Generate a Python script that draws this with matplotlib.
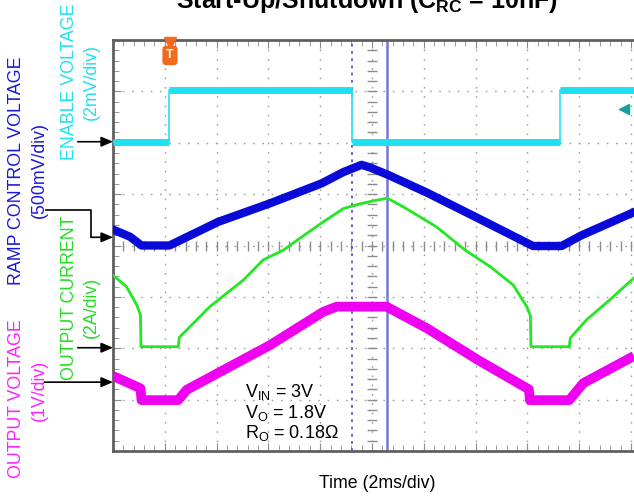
import numpy as np
import matplotlib
matplotlib.use('Agg')
import matplotlib.pyplot as plt

plt.rcParams['font.family'] = ['Liberation Sans', 'DejaVu Sans']
plt.rcParams['mathtext.fontset'] = 'custom'
plt.rcParams['mathtext.rm'] = 'Liberation Sans'
plt.rcParams['mathtext.bf'] = 'Liberation Sans:bold'

# scope traces in divisions (x: 0..10, y: 0..8)
enable_x = [0, 1.09, 1.09, 4.61, 4.61, 8.64, 8.64, 10.06]
enable_y = [6.02, 6.02, 7.02, 7.02, 6.02, 6.02, 7.02, 7.02]

ramp_x = [0, 0.33, 0.55, 1.09, 2.03, 3.03, 4.03, 4.45, 4.8, 4.96, 5.3, 6.06, 7.05, 8.11, 8.66, 9.05, 10.06]
ramp_y = [4.31, 4.17, 4.0, 4.0, 4.46, 4.82, 5.21, 5.43, 5.57, 5.52, 5.38, 5.03, 4.53, 3.99, 3.99, 4.2, 4.65]

current_x = [0, 0.26, 0.46, 0.53, 0.54, 1.26, 1.28, 1.87, 2.52, 2.9, 3.29, 3.55, 4.06, 4.45, 4.77, 5.03, 5.3,
             5.61, 6.25, 6.8, 7.28, 7.73, 7.99, 8.06, 8.07, 8.81, 8.83, 9.14, 9.59, 10.06]
current_y = [3.42, 3.2, 2.84, 2.65, 2.03, 2.03, 2.21, 2.81, 3.33, 3.72, 3.91, 4.1, 4.46, 4.72, 4.81, 4.87, 4.92,
             4.75, 4.36, 3.91, 3.59, 3.23, 2.81, 2.63, 2.03, 2.03, 2.2, 2.55, 2.94, 3.37]

vout_x = [0, 0.53, 0.55, 1.26, 1.42, 3.03, 4.06, 4.32, 5.28, 6.06, 7.05, 8.03, 8.05, 8.81, 9.08, 10.06]
vout_y = [1.46, 1.22, 0.99, 0.99, 1.19, 2.06, 2.71, 2.81, 2.81, 2.39, 1.77, 1.2, 0.99, 0.99, 1.32, 1.85]

# ground markers on the left edge
ground_enable = 6.02
ground_ramp = 4.16
ground_current = 2.01
ground_vout = 1.34

cursor_a = 4.61
cursor_b = 5.30
trigger_x = 1.1

W, H = 634, 497
fig = plt.figure(figsize=(W / 100, H / 100), dpi=100)
ax = fig.add_axes([113 / W, 46 / H, 1 - 113 / W, 411 / H])
ax.set_xlim(0, 10.06)
ax.set_ylim(0, 8)

# graticule
for gx in range(1, 11):
    ax.axvline(gx, color='#a0a0a0', lw=1, ls=(0, (1.2, 5.5)), zorder=1)
for gy in range(1, 8):
    ax.axhline(gy, color='#a0a0a0', lw=1, ls=(0, (1.2, 5.5)), zorder=1)
fine = np.arange(0, 10.06, 0.2)
ax.plot(fine, np.full(len(fine), 4.0), ls='none', marker='|', ms=7, mew=1, color='#8c8c8c', zorder=1)
fine_v = np.arange(0, 8.01, 0.2)
ax.plot(np.full(len(fine_v), 5.0), fine_v, ls='none', marker='_', ms=7, mew=1, color='#8c8c8c', zorder=1)

ax.set_xticks(range(0, 11))
ax.set_xticks(np.arange(0, 10.06, 0.2), minor=True)
ax.set_yticks(range(0, 9))
ax.set_yticks(np.arange(0, 8.01, 0.2), minor=True)
ax.tick_params(which='both', direction='in', top=True, labelbottom=False, labelleft=False, color='#8c8c8c')
ax.tick_params(which='major', length=6)
ax.tick_params(which='minor', length=4)
for s in ['left', 'top', 'bottom']:
    ax.spines[s].set_color('#606060')
    ax.spines[s].set_linewidth(2)
ax.spines['right'].set_visible(False)

# cursors
ax.axvline(cursor_a, color='#5555cc', lw=1.3, ls=(0, (1.5, 2.5)), zorder=2)
ax.axvline(cursor_b, color='#7878d8', lw=1.8, zorder=2)

# traces
ax.plot(enable_x, enable_y, color='#33e6f2', lw=1.3, zorder=3)
for i in range(len(enable_x) - 1):
    if enable_y[i] == enable_y[i + 1]:
        ax.plot(enable_x[i:i + 2], enable_y[i:i + 2], color='#1fe0f0', lw=5, solid_capstyle='butt', zorder=3)
ax.plot(ramp_x, ramp_y, color='#0a0ad8', lw=6, solid_joinstyle='round', zorder=4)
ax.plot(current_x, current_y, color='#22e822', lw=2, zorder=4)
ax.plot(vout_x, vout_y, color='#f000f0', lw=7, solid_joinstyle='round', solid_capstyle='butt', zorder=4)

# trigger marker and level marker
ax.plot([trigger_x], [7.95], marker='v', ms=8, color='#f26a1b', clip_on=False, zorder=5)
ax.text(trigger_x, 7.7, 'T', color='white', fontsize=9, fontweight='bold', ha='center', va='center',
        bbox=dict(boxstyle='round,pad=0.3', fc='#f26a1b', ec='none'), zorder=5)
ax.plot([9.87], [6.65], marker='<', ms=7, color='#1a9fa0', zorder=5)

# ground arrows
arrow = dict(arrowstyle='-|>,head_length=0.7,head_width=0.3', mutation_scale=10, color='black', lw=1.2,
             shrinkA=0, shrinkB=0)
ax.annotate('', xy=(0, ground_enable), xytext=(-0.68, ground_enable), arrowprops=arrow, annotation_clip=False)
ax.plot([-1.29, -0.42, -0.42], [4.70, 4.70, ground_ramp], color='black', lw=1.2, clip_on=False)
ax.annotate('', xy=(0, ground_ramp), xytext=(-0.42, ground_ramp), arrowprops=arrow, annotation_clip=False)
ax.annotate('', xy=(0, ground_current), xytext=(-0.68, ground_current), arrowprops=arrow, annotation_clip=False)
ax.annotate('', xy=(0, ground_vout), xytext=(-1.33, ground_vout), arrowprops=arrow, annotation_clip=False)

# channel labels
def side_label(px, py, s, c):
    fig.text(px / W, 1 - py / H, s, color=c, fontsize=12.8, rotation=90, ha='center', va='center')

side_label(69, 82, 'ENABLE VOLTAGE', '#22e0ee')
side_label(91, 82, '(2mV/div)', '#22e0ee')
side_label(17, 171, 'RAMP CONTROL VOLTAGE', '#1818dc')
side_label(39, 170, '(500mV/div)', '#1818dc')
side_label(69, 298, 'OUTPUT CURRENT', '#22dd22')
side_label(91, 307, '(2A/div)', '#22dd22')
side_label(17, 399, 'OUTPUT VOLTAGE', '#ff22ff')
side_label(39, 390, '(1V/div)', '#ff22ff')

# conditions
fig.text(245 / W, 1 - 392 / H, r'V$_{\mathrm{IN}}$ = 3V', fontsize=13, va='center')
fig.text(245 / W, 1 - 413 / H, r'V$_{\mathrm{O}}$ = 1.8V', fontsize=13, va='center')
fig.text(245 / W, 1 - 433 / H, r'R$_{\mathrm{O}}$ = 0.18Ω', fontsize=13, va='center')

fig.text(377 / W, 1 - 484 / H, 'Time (2ms/div)', fontsize=12.8, ha='center', va='center')
fig.text(367 / W, 1 - 8 / H, r'Start-Up/Shutdown (C$_{\mathbf{RC}}$ = 10nF)', fontsize=18,
         fontweight='bold', ha='center', va='baseline')

plt.savefig('out.png', dpi=100)
